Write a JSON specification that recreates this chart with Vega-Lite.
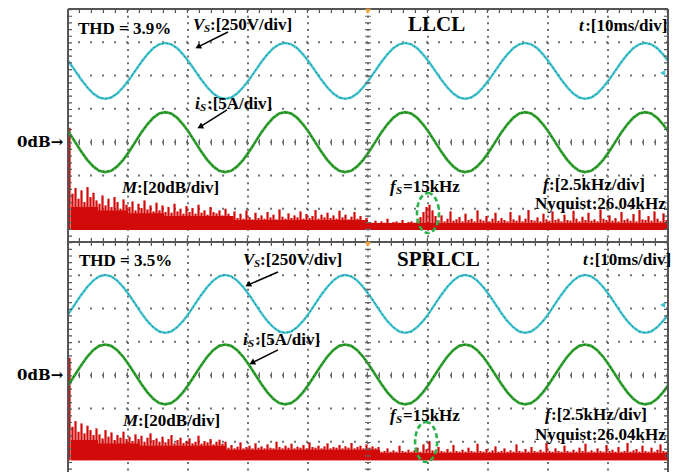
{
"$schema":"https://vega.github.io/schema/vega-lite/v6.json",
"width":600,"height":463,
"autosize":{"type":"none"},
"padding":{"left":68,"top":9,"right":14,"bottom":0},
"background":"white",
"config":{"view":{"stroke":null}},
"datasets":{
"w":[
{"t":-0.8,"a":12.63,"b":10.53,"c":4.63,"d":2.49},{"t":0.2,"a":12.40,"b":10.28,"c":4.87,"d":2.74},{"t":1.2,"a":12.14,"b":10.00,"c":5.14,"d":3.02},{"t":2.2,"a":11.88,"b":9.72,"c":5.41,"d":3.30},{"t":3.2,"a":11.65,"b":9.47,"c":5.65,"d":3.55},{"t":4.2,"a":11.46,"b":9.27,"c":5.84,"d":3.75},{"t":5.2,"a":11.34,"b":9.14,"c":5.97,"d":3.88},{"t":6.2,"a":11.30,"b":9.10,"c":6.01,"d":3.92},{"t":7.2,"a":11.34,"b":9.14,"c":5.97,"d":3.88},{"t":8.2,"a":11.46,"b":9.27,"c":5.84,"d":3.75},{"t":9.2,"a":11.65,"b":9.47,"c":5.65,"d":3.55},{"t":10.2,"a":11.88,"b":9.72,"c":5.41,"d":3.30},{"t":11.2,"a":12.14,"b":10.00,"c":5.14,"d":3.02},{"t":12.2,"a":12.40,"b":10.28,"c":4.87,"d":2.74},{"t":13.2,"a":12.63,"b":10.53,"c":4.63,"d":2.49},{"t":14.2,"a":12.82,"b":10.73,"c":4.44,"d":2.29},{"t":15.2,"a":12.94,"b":10.86,"c":4.31,"d":2.16},{"t":16.2,"a":12.98,"b":10.90,"c":4.27,"d":2.12},{"t":17.2,"a":12.94,"b":10.86,"c":4.31,"d":2.16},{"t":18.2,"a":12.82,"b":10.73,"c":4.44,"d":2.29},
{"t":19.2,"a":12.63,"b":10.53,"c":4.63,"d":2.49},{"t":20.2,"a":12.40,"b":10.28,"c":4.87,"d":2.74},{"t":21.2,"a":12.14,"b":10.00,"c":5.14,"d":3.02},{"t":22.2,"a":11.88,"b":9.72,"c":5.41,"d":3.30},{"t":23.2,"a":11.65,"b":9.47,"c":5.65,"d":3.55},{"t":24.2,"a":11.46,"b":9.27,"c":5.84,"d":3.75},{"t":25.2,"a":11.34,"b":9.14,"c":5.97,"d":3.88},{"t":26.2,"a":11.30,"b":9.10,"c":6.01,"d":3.92},{"t":27.2,"a":11.34,"b":9.14,"c":5.97,"d":3.88},{"t":28.2,"a":11.46,"b":9.27,"c":5.84,"d":3.75},{"t":29.2,"a":11.65,"b":9.47,"c":5.65,"d":3.55},{"t":30.2,"a":11.88,"b":9.72,"c":5.41,"d":3.30},{"t":31.2,"a":12.14,"b":10.00,"c":5.14,"d":3.02},{"t":32.2,"a":12.40,"b":10.28,"c":4.87,"d":2.74},{"t":33.2,"a":12.63,"b":10.53,"c":4.63,"d":2.49},{"t":34.2,"a":12.82,"b":10.73,"c":4.44,"d":2.29},{"t":35.2,"a":12.94,"b":10.86,"c":4.31,"d":2.16},{"t":36.2,"a":12.98,"b":10.90,"c":4.27,"d":2.12},{"t":37.2,"a":12.94,"b":10.86,"c":4.31,"d":2.16},{"t":38.2,"a":12.82,"b":10.73,"c":4.44,"d":2.29},
{"t":39.2,"a":12.63,"b":10.53,"c":4.63,"d":2.49},{"t":40.2,"a":12.40,"b":10.28,"c":4.87,"d":2.74},{"t":41.2,"a":12.14,"b":10.00,"c":5.14,"d":3.02},{"t":42.2,"a":11.88,"b":9.72,"c":5.41,"d":3.30},{"t":43.2,"a":11.65,"b":9.47,"c":5.65,"d":3.55},{"t":44.2,"a":11.46,"b":9.27,"c":5.84,"d":3.75},{"t":45.2,"a":11.34,"b":9.14,"c":5.97,"d":3.88},{"t":46.2,"a":11.30,"b":9.10,"c":6.01,"d":3.92},{"t":47.2,"a":11.34,"b":9.14,"c":5.97,"d":3.88},{"t":48.2,"a":11.46,"b":9.27,"c":5.84,"d":3.75},{"t":49.2,"a":11.65,"b":9.47,"c":5.65,"d":3.55},{"t":50.2,"a":11.88,"b":9.72,"c":5.41,"d":3.30},{"t":51.2,"a":12.14,"b":10.00,"c":5.14,"d":3.02},{"t":52.2,"a":12.40,"b":10.28,"c":4.87,"d":2.74},{"t":53.2,"a":12.63,"b":10.53,"c":4.63,"d":2.49},{"t":54.2,"a":12.82,"b":10.73,"c":4.44,"d":2.29},{"t":55.2,"a":12.94,"b":10.86,"c":4.31,"d":2.16},{"t":56.2,"a":12.98,"b":10.90,"c":4.27,"d":2.12},{"t":57.2,"a":12.94,"b":10.86,"c":4.31,"d":2.16},{"t":58.2,"a":12.82,"b":10.73,"c":4.44,"d":2.29},
{"t":59.2,"a":12.63,"b":10.53,"c":4.63,"d":2.49},{"t":60.2,"a":12.40,"b":10.28,"c":4.87,"d":2.74},{"t":61.2,"a":12.14,"b":10.00,"c":5.14,"d":3.02},{"t":62.2,"a":11.88,"b":9.72,"c":5.41,"d":3.30},{"t":63.2,"a":11.65,"b":9.47,"c":5.65,"d":3.55},{"t":64.2,"a":11.46,"b":9.27,"c":5.84,"d":3.75},{"t":65.2,"a":11.34,"b":9.14,"c":5.97,"d":3.88},{"t":66.2,"a":11.30,"b":9.10,"c":6.01,"d":3.92},{"t":67.2,"a":11.34,"b":9.14,"c":5.97,"d":3.88},{"t":68.2,"a":11.46,"b":9.27,"c":5.84,"d":3.75},{"t":69.2,"a":11.65,"b":9.47,"c":5.65,"d":3.55},{"t":70.2,"a":11.88,"b":9.72,"c":5.41,"d":3.30},{"t":71.2,"a":12.14,"b":10.00,"c":5.14,"d":3.02},{"t":72.2,"a":12.40,"b":10.28,"c":4.87,"d":2.74},{"t":73.2,"a":12.63,"b":10.53,"c":4.63,"d":2.49},{"t":74.2,"a":12.82,"b":10.73,"c":4.44,"d":2.29},{"t":75.2,"a":12.94,"b":10.86,"c":4.31,"d":2.16},{"t":76.2,"a":12.98,"b":10.90,"c":4.27,"d":2.12},{"t":77.2,"a":12.94,"b":10.86,"c":4.31,"d":2.16},{"t":78.2,"a":12.82,"b":10.73,"c":4.44,"d":2.29},
{"t":79.2,"a":12.63,"b":10.53,"c":4.63,"d":2.49},{"t":80.2,"a":12.40,"b":10.28,"c":4.87,"d":2.74},{"t":81.2,"a":12.14,"b":10.00,"c":5.14,"d":3.02},{"t":82.2,"a":11.88,"b":9.72,"c":5.41,"d":3.30},{"t":83.2,"a":11.65,"b":9.47,"c":5.65,"d":3.55},{"t":84.2,"a":11.46,"b":9.27,"c":5.84,"d":3.75},{"t":85.2,"a":11.34,"b":9.14,"c":5.97,"d":3.88},{"t":86.2,"a":11.30,"b":9.10,"c":6.01,"d":3.92},{"t":87.2,"a":11.34,"b":9.14,"c":5.97,"d":3.88},{"t":88.2,"a":11.46,"b":9.27,"c":5.84,"d":3.75},{"t":89.2,"a":11.65,"b":9.47,"c":5.65,"d":3.55},{"t":90.2,"a":11.88,"b":9.72,"c":5.41,"d":3.30},{"t":91.2,"a":12.14,"b":10.00,"c":5.14,"d":3.02},{"t":92.2,"a":12.40,"b":10.28,"c":4.87,"d":2.74},{"t":93.2,"a":12.63,"b":10.53,"c":4.63,"d":2.49},{"t":94.2,"a":12.82,"b":10.73,"c":4.44,"d":2.29},{"t":95.2,"a":12.94,"b":10.86,"c":4.31,"d":2.16},{"t":96.2,"a":12.98,"b":10.90,"c":4.27,"d":2.12},{"t":97.2,"a":12.94,"b":10.86,"c":4.31,"d":2.16},{"t":98.2,"a":12.82,"b":10.73,"c":4.44,"d":2.29},
{"t":99.2,"a":12.63,"b":10.53,"c":4.63,"d":2.49},{"t":100.2,"a":12.40,"b":10.28,"c":4.87,"d":2.74}
],
"s":[
{"f":0.0625,"a":10.43,"b":3.52},{"f":0.1875,"a":8.45,"b":1.45},{"f":0.3125,"a":8.62,"b":1.62},{"f":0.4375,"a":8.30,"b":1.30},{"f":0.5625,"a":8.55,"b":1.55},{"f":0.6875,"a":8.20,"b":1.25},{"f":0.8125,"a":8.65,"b":1.48},{"f":0.9375,"a":8.35,"b":1.35},
{"f":1.0625,"a":8.48,"b":1.20},{"f":1.1875,"a":8.25,"b":1.40},{"f":1.3125,"a":8.15,"b":1.22},{"f":1.4375,"a":8.40,"b":1.10},{"f":1.5625,"a":8.10,"b":1.35},{"f":1.6875,"a":8.30,"b":1.15},{"f":1.8125,"a":8.05,"b":1.28},{"f":1.9375,"a":8.35,"b":1.05},
{"f":2.0625,"a":8.20,"b":1.20},{"f":2.1875,"a":8.00,"b":1.12},{"f":2.3125,"a":8.28,"b":1.30},{"f":2.4375,"a":8.12,"b":1.08},{"f":2.5625,"a":8.05,"b":1.15},{"f":2.6875,"a":8.22,"b":1.02},{"f":2.8125,"a":7.95,"b":1.22},{"f":2.9375,"a":8.15,"b":1.08},
{"f":3.0625,"a":8.02,"b":1.18},{"f":3.1875,"a":8.25,"b":1.00},{"f":3.3125,"a":7.98,"b":1.12},{"f":3.4375,"a":8.10,"b":1.25},{"f":3.5625,"a":7.92,"b":1.05},{"f":3.6875,"a":8.18,"b":1.10},{"f":3.8125,"a":7.95,"b":1.00},{"f":3.9375,"a":8.10,"b":1.15},
{"f":4.0625,"a":7.90,"b":0.98},{"f":4.1875,"a":8.05,"b":1.08},{"f":4.3125,"a":7.88,"b":1.20},{"f":4.4375,"a":8.15,"b":0.95},{"f":4.5625,"a":7.92,"b":1.05},{"f":4.6875,"a":8.00,"b":1.12},{"f":4.8125,"a":7.85,"b":0.96},{"f":4.9375,"a":8.08,"b":1.02},
{"f":5.0625,"a":7.90,"b":1.10},{"f":5.1875,"a":8.02,"b":0.95},{"f":5.3125,"a":7.85,"b":1.00},{"f":5.4375,"a":8.12,"b":1.18},{"f":5.5625,"a":7.88,"b":0.94},{"f":5.6875,"a":7.95,"b":1.02},{"f":5.8125,"a":7.82,"b":0.98},{"f":5.9375,"a":8.05,"b":1.08},
{"f":6.0625,"a":7.90,"b":0.92},{"f":6.1875,"a":7.86,"b":1.00},{"f":6.3125,"a":7.95,"b":1.06},{"f":6.4375,"a":7.80,"b":0.94},{"f":6.5625,"a":8.00,"b":1.00},{"f":6.6875,"a":7.85,"b":0.82},{"f":6.8125,"a":7.78,"b":0.90},{"f":6.9375,"a":7.92,"b":0.80},
{"f":7.0625,"a":7.72,"b":0.85},{"f":7.1875,"a":7.85,"b":0.98},{"f":7.3125,"a":7.70,"b":0.80},{"f":7.4375,"a":7.95,"b":0.84},{"f":7.5625,"a":7.75,"b":0.88},{"f":7.6875,"a":7.68,"b":0.80},{"f":7.8125,"a":7.88,"b":0.95},{"f":7.9375,"a":7.72,"b":0.82},
{"f":8.0625,"a":7.80,"b":0.86},{"f":8.1875,"a":7.70,"b":0.80},{"f":8.3125,"a":7.90,"b":0.92},{"f":8.4375,"a":7.74,"b":0.82},{"f":8.5625,"a":7.82,"b":0.80},{"f":8.6875,"a":7.68,"b":1.00},{"f":8.8125,"a":7.98,"b":0.84},{"f":8.9375,"a":7.76,"b":0.80},
{"f":9.0625,"a":7.70,"b":0.88},{"f":9.1875,"a":7.86,"b":0.82},{"f":9.3125,"a":7.72,"b":0.94},{"f":9.4375,"a":7.80,"b":0.80},{"f":9.5625,"a":7.74,"b":0.85},{"f":9.6875,"a":7.92,"b":0.82},{"f":9.8125,"a":7.70,"b":0.90},{"f":9.9375,"a":7.84,"b":0.80},
{"f":10.0625,"a":7.72,"b":0.98},{"f":10.1875,"a":7.78,"b":0.84},{"f":10.3125,"a":7.96,"b":0.82},{"f":10.4375,"a":7.70,"b":0.88},{"f":10.5625,"a":7.82,"b":0.80},{"f":10.6875,"a":7.74,"b":0.86},{"f":10.8125,"a":7.88,"b":0.95},{"f":10.9375,"a":7.72,"b":0.80},
{"f":11.0625,"a":7.80,"b":0.84},{"f":11.1875,"a":7.70,"b":0.82},{"f":11.3125,"a":7.94,"b":0.90},{"f":11.4375,"a":7.74,"b":0.80},{"f":11.5625,"a":7.82,"b":0.86},{"f":11.6875,"a":7.68,"b":0.82},{"f":11.8125,"a":7.76,"b":0.96},{"f":11.9375,"a":7.90,"b":0.80},
{"f":12.0625,"a":7.70,"b":0.84},{"f":12.1875,"a":7.78,"b":0.88},{"f":12.3125,"a":7.66,"b":0.80},{"f":12.4375,"a":7.72,"b":0.92},{"f":12.5625,"a":7.60,"b":0.82},{"f":12.6875,"a":7.58,"b":0.86},{"f":12.8125,"a":7.64,"b":0.80},{"f":12.9375,"a":7.56,"b":0.84},
{"f":13.0625,"a":7.62,"b":0.70},{"f":13.1875,"a":7.58,"b":0.72},{"f":13.3125,"a":7.70,"b":0.80},{"f":13.4375,"a":7.56,"b":0.70},{"f":13.5625,"a":7.60,"b":0.74},{"f":13.6875,"a":7.62,"b":0.70},{"f":13.8125,"a":7.58,"b":0.88},{"f":13.9375,"a":7.66,"b":0.72},
{"f":14.0625,"a":7.56,"b":0.70},{"f":14.1875,"a":7.60,"b":0.76},{"f":14.3125,"a":7.62,"b":0.70},{"f":14.4375,"a":7.58,"b":0.74},{"f":14.5625,"a":7.64,"b":0.82},{"f":14.6875,"a":7.75,"b":0.70},{"f":14.8125,"a":7.90,"b":0.92},{"f":14.9375,"a":8.05,"b":0.78},
{"f":15.0625,"a":8.12,"b":1.02},{"f":15.1875,"a":7.95,"b":0.74},{"f":15.3125,"a":7.78,"b":0.70},{"f":15.4375,"a":7.65,"b":0.84},{"f":15.5625,"a":7.80,"b":0.72},{"f":15.6875,"a":7.62,"b":0.70},{"f":15.8125,"a":7.70,"b":0.78},{"f":15.9375,"a":7.92,"b":0.70},
{"f":16.0625,"a":7.64,"b":0.90},{"f":16.1875,"a":7.68,"b":0.72},{"f":16.3125,"a":7.75,"b":0.70},{"f":16.4375,"a":7.62,"b":0.76},{"f":16.5625,"a":7.85,"b":0.70},{"f":16.6875,"a":7.66,"b":0.82},{"f":16.8125,"a":7.70,"b":0.72},{"f":16.9375,"a":7.62,"b":0.70},
{"f":17.0625,"a":7.95,"b":0.94},{"f":17.1875,"a":7.68,"b":0.72},{"f":17.3125,"a":7.64,"b":0.70},{"f":17.4375,"a":7.78,"b":0.78},{"f":17.5625,"a":7.62,"b":0.70},{"f":17.6875,"a":7.70,"b":0.74},{"f":17.8125,"a":7.88,"b":0.86},{"f":17.9375,"a":7.64,"b":0.70},
{"f":18.0625,"a":7.72,"b":0.72},{"f":18.1875,"a":7.66,"b":0.80},{"f":18.3125,"a":7.62,"b":0.70},{"f":18.4375,"a":7.90,"b":0.74},{"f":18.5625,"a":7.68,"b":0.70},{"f":18.6875,"a":7.64,"b":0.92},{"f":18.8125,"a":7.80,"b":0.72},{"f":18.9375,"a":7.62,"b":0.70},
{"f":19.0625,"a":7.70,"b":0.78},{"f":19.1875,"a":7.96,"b":0.70},{"f":19.3125,"a":7.66,"b":0.84},{"f":19.4375,"a":7.64,"b":0.72},{"f":19.5625,"a":7.74,"b":0.70},{"f":19.6875,"a":7.62,"b":0.76},{"f":19.8125,"a":7.85,"b":0.70},{"f":19.9375,"a":7.68,"b":0.96},
{"f":20.0625,"a":7.64,"b":0.72},{"f":20.1875,"a":7.92,"b":0.70},{"f":20.3125,"a":7.66,"b":0.80},{"f":20.4375,"a":7.70,"b":0.72},{"f":20.5625,"a":7.62,"b":0.70},{"f":20.6875,"a":7.82,"b":0.88},{"f":20.8125,"a":7.66,"b":0.72},{"f":20.9375,"a":7.64,"b":0.70},
{"f":21.0625,"a":7.94,"b":0.76},{"f":21.1875,"a":7.70,"b":0.70},{"f":21.3125,"a":7.62,"b":0.82},{"f":21.4375,"a":7.76,"b":0.72},{"f":21.5625,"a":7.66,"b":0.94},{"f":21.6875,"a":7.88,"b":0.70},{"f":21.8125,"a":7.64,"b":0.74},{"f":21.9375,"a":7.68,"b":0.70},
{"f":22.0625,"a":7.62,"b":0.80},{"f":22.1875,"a":7.98,"b":0.72},{"f":22.3125,"a":7.70,"b":0.70},{"f":22.4375,"a":7.66,"b":0.90},{"f":22.5625,"a":7.80,"b":0.72},{"f":22.6875,"a":7.64,"b":0.76},{"f":22.8125,"a":7.72,"b":0.70},{"f":22.9375,"a":7.62,"b":0.84},
{"f":23.0625,"a":7.90,"b":0.70},{"f":23.1875,"a":7.66,"b":0.72},{"f":23.3125,"a":7.70,"b":0.96},{"f":23.4375,"a":7.64,"b":0.70},{"f":23.5625,"a":7.84,"b":0.74},{"f":23.6875,"a":7.62,"b":0.78},{"f":23.8125,"a":7.96,"b":0.70},{"f":23.9375,"a":7.68,"b":0.88},
{"f":24.0625,"a":7.66,"b":0.72},{"f":24.1875,"a":7.78,"b":0.70},{"f":24.3125,"a":7.64,"b":0.82},{"f":24.4375,"a":7.92,"b":0.70},{"f":24.5625,"a":7.70,"b":0.76},{"f":24.6875,"a":7.62,"b":0.92},{"f":24.8125,"a":7.86,"b":0.72},{"f":24.9375,"a":7.66,"b":0.70}
],
"base":[
{"f":0.125,"m":8.05,"n":1.05},{"f":1.25,"m":7.95,"n":0.95},{"f":2.5,"m":7.86,"n":0.95},{"f":3.0,"m":7.86,"n":0.88},{"f":4.0,"m":7.78,"n":0.88},{"f":6.6,"m":7.78,"n":0.76},{"f":6.9,"m":7.66,"n":0.76},{"f":12.5,"m":7.57,"n":0.76},{"f":13.0,"m":7.57,"n":0.66},{"f":25,"m":7.57,"n":0.66}
],
"gx":[{"g":10},{"g":20},{"g":30},{"g":40},{"g":50},{"g":60},{"g":70},{"g":80},{"g":90}],
"gy":[{"g":1},{"g":2},{"g":3},{"g":4},{"g":5},{"g":6},{"g":8},{"g":9},{"g":10},{"g":11},{"g":12},{"g":13}],
"lab":[
{"k":"z","t":-0.8,"y":10,"s":"0dB→"},
{"k":"z","t":-0.8,"y":3,"s":"0dB→"},
{"k":"b","t":1.67,"y":13.41,"s":"THD = 3.9%"},
{"k":"b","t":23.67,"y":13.52,"s":":[250V/div]"},
{"k":"b","t":86.2,"y":13.49,"s":":[10ms/div]"},
{"k":"b","t":23.17,"y":11.15,"s":":[5A/div]"},
{"k":"b","t":11.5,"y":8.62,"s":":[20dB/div]"},
{"k":"b","t":55.83,"y":8.65,"s":"=15kHz"},
{"k":"b","t":80.17,"y":8.71,"s":":[2.5kHz/div]"},
{"k":"b","t":77.83,"y":8.14,"s":"Nyquist:26.04kHz"},
{"k":"b","t":1.83,"y":6.43,"s":"THD = 3.5%"},
{"k":"b","t":32.0,"y":6.46,"s":":[250V/div]"},
{"k":"b","t":86.83,"y":6.46,"s":":[10ms/div]"},
{"k":"b","t":31.17,"y":4.06,"s":":[5A/div]"},
{"k":"b","t":11.67,"y":1.62,"s":":[20dB/div]"},
{"k":"b","t":55.83,"y":1.77,"s":"=15kHz"},
{"k":"b","t":80.5,"y":1.80,"s":":[2.5kHz/div]"},
{"k":"b","t":77.83,"y":1.20,"s":"Nyquist:26.04kHz"},
{"k":"L","t":56.67,"y":13.52,"s":"LLCL"},
{"k":"L","t":54.83,"y":6.46,"s":"SPRLCL"},
{"k":"i","t":20.83,"y":13.52,"s":"V"},
{"k":"i","t":85.17,"y":13.49,"s":"t"},
{"k":"i","t":21.17,"y":11.15,"s":"i"},
{"k":"i","t":9.0,"y":8.62,"s":"M"},
{"k":"i","t":53.67,"y":8.65,"s":"f"},
{"k":"i","t":79.17,"y":8.71,"s":"f"},
{"k":"i","t":29.17,"y":6.46,"s":"V"},
{"k":"i","t":85.83,"y":6.46,"s":"t"},
{"k":"i","t":29.17,"y":4.06,"s":"i"},
{"k":"i","t":9.17,"y":1.62,"s":"M"},
{"k":"i","t":53.67,"y":1.77,"s":"f"},
{"k":"i","t":79.5,"y":1.80,"s":"f"},
{"k":"s","t":22.67,"y":13.40,"s":"S"},
{"k":"s","t":22.0,"y":11.03,"s":"S"},
{"k":"s","t":54.67,"y":8.53,"s":"S"},
{"k":"s","t":31.0,"y":6.34,"s":"S"},
{"k":"s","t":30.0,"y":3.94,"s":"S"},
{"k":"s","t":54.67,"y":1.65,"s":"S"}
],
"arr":[
{"t":26.67,"y":13.31,"t2":21.67,"y2":12.86},
{"t":26.5,"y":10.97,"t2":22.0,"y2":10.46},
{"t":35.0,"y":6.10,"t2":30.0,"y2":5.71},
{"t":35.0,"y":3.76,"t2":30.67,"y2":3.37}
]
},
"layer":[
{"data":{"name":"gx"},"mark":{"type":"rule","color":"#707070","strokeWidth":2,"strokeDash":[2,4.66]},
 "encoding":{"x":{"field":"g","type":"quantitative","scale":{"domain":[0,100],"nice":false,"zero":false},"axis":null}}},
{"data":{"name":"gy"},"mark":{"type":"rule","color":"#707070","strokeWidth":2,"strokeDash":[2,10]},
 "encoding":{"y":{"field":"g","type":"quantitative","scale":{"domain":[0.09,14],"nice":false,"zero":false},"axis":null}}},
{"data":{"name":"base"},"mark":{"type":"area","color":"#d20a0a","interpolate":"step-after","opacity":1,"clip":true},
 "encoding":{"x":{"field":"f","type":"quantitative","scale":{"domain":[0,25],"nice":false,"zero":false},"axis":null},
 "y":{"field":"m","type":"quantitative","scale":{"domain":[0.09,14],"nice":false,"zero":false},"axis":null},
 "y2":{"datum":7.36}}},
{"data":{"name":"base"},"mark":{"type":"area","color":"#d20a0a","interpolate":"step-after","opacity":1,"clip":true},
 "encoding":{"x":{"field":"f","type":"quantitative","scale":{"domain":[0,25],"nice":false,"zero":false},"axis":null},
 "y":{"field":"n","type":"quantitative","scale":{"domain":[0.09,14],"nice":false,"zero":false},"axis":null},
 "y2":{"datum":0.44}}},
{"data":{"name":"s"},"mark":{"type":"rule","color":"#d20a0a","strokeWidth":2.2,"clip":true},
 "encoding":{"x":{"field":"f","type":"quantitative","scale":{"domain":[0,25],"nice":false,"zero":false},"axis":null},
 "y":{"field":"a","type":"quantitative","scale":{"domain":[0.09,14],"nice":false,"zero":false},"axis":null},
 "y2":{"datum":7.36}}},
{"data":{"name":"s"},"mark":{"type":"rule","color":"#d20a0a","strokeWidth":2.2,"clip":true},
 "encoding":{"x":{"field":"f","type":"quantitative","scale":{"domain":[0,25],"nice":false,"zero":false},"axis":null},
 "y":{"field":"b","type":"quantitative","scale":{"domain":[0.09,14],"nice":false,"zero":false},"axis":null},
 "y2":{"datum":0.44}}},
{"data":{"values":[{"f":15.0,"y":7.87},{"f":14.92,"y":0.99}]},
 "mark":{"type":"point","shape":"M0,-1A0.55,1,0,1,1,0,1A0.55,1,0,1,1,0,-1Z","size":1600,"filled":false,"stroke":"#2bb24c","strokeWidth":2.6,"strokeDash":[5,3],"opacity":1},
 "encoding":{"x":{"field":"f","type":"quantitative","scale":{"domain":[0,25],"nice":false,"zero":false},"axis":null},
 "y":{"field":"y","type":"quantitative","scale":{"domain":[0.09,14],"nice":false,"zero":false},"axis":null}}},
{"data":{"name":"w"},"mark":{"type":"line","color":"#3ec5d0","strokeWidth":2.4,"clip":true},
 "encoding":{"x":{"field":"t","type":"quantitative","scale":{"domain":[0,100],"nice":false,"zero":false},"axis":null},
 "y":{"field":"a","type":"quantitative","scale":{"domain":[0.09,14],"nice":false,"zero":false},"axis":null}}},
{"data":{"name":"w"},"mark":{"type":"line","color":"#2fa22f","strokeWidth":2.7,"clip":true},
 "encoding":{"x":{"field":"t","type":"quantitative","scale":{"domain":[0,100],"nice":false,"zero":false},"axis":null},
 "y":{"field":"b","type":"quantitative","scale":{"domain":[0.09,14],"nice":false,"zero":false},"axis":null}}},
{"data":{"name":"w"},"mark":{"type":"line","color":"#3ec5d0","strokeWidth":2.4,"clip":true},
 "encoding":{"x":{"field":"t","type":"quantitative","scale":{"domain":[0,100],"nice":false,"zero":false},"axis":null},
 "y":{"field":"c","type":"quantitative","scale":{"domain":[0.09,14],"nice":false,"zero":false},"axis":null}}},
{"data":{"name":"w"},"mark":{"type":"line","color":"#2fa22f","strokeWidth":2.7,"clip":true},
 "encoding":{"x":{"field":"t","type":"quantitative","scale":{"domain":[0,100],"nice":false,"zero":false},"axis":null},
 "y":{"field":"d","type":"quantitative","scale":{"domain":[0.09,14],"nice":false,"zero":false},"axis":null}}},
{"data":{"name":"w"},"mark":{"type":"line","color":"#1e2a2a","strokeWidth":1,"opacity":0.5,"strokeDash":[1.5,3],"clip":true},
 "encoding":{"x":{"field":"t","type":"quantitative","scale":{"domain":[0,100],"nice":false,"zero":false},"axis":null},
 "y":{"field":"a","type":"quantitative","scale":{"domain":[0.09,14],"nice":false,"zero":false},"axis":null}}},
{"data":{"name":"w"},"mark":{"type":"line","color":"#102010","strokeWidth":1,"opacity":0.5,"strokeDash":[1.5,3],"clip":true},
 "encoding":{"x":{"field":"t","type":"quantitative","scale":{"domain":[0,100],"nice":false,"zero":false},"axis":null},
 "y":{"field":"b","type":"quantitative","scale":{"domain":[0.09,14],"nice":false,"zero":false},"axis":null}}},
{"data":{"name":"w"},"mark":{"type":"line","color":"#1e2a2a","strokeWidth":1,"opacity":0.5,"strokeDash":[1.5,3],"clip":true},
 "encoding":{"x":{"field":"t","type":"quantitative","scale":{"domain":[0,100],"nice":false,"zero":false},"axis":null},
 "y":{"field":"c","type":"quantitative","scale":{"domain":[0.09,14],"nice":false,"zero":false},"axis":null}}},
{"data":{"name":"w"},"mark":{"type":"line","color":"#102010","strokeWidth":1,"opacity":0.5,"strokeDash":[1.5,3],"clip":true},
 "encoding":{"x":{"field":"t","type":"quantitative","scale":{"domain":[0,100],"nice":false,"zero":false},"axis":null},
 "y":{"field":"d","type":"quantitative","scale":{"domain":[0.09,14],"nice":false,"zero":false},"axis":null}}},
{"data":{"values":[{}]},"mark":{"type":"rule","color":"#555555","strokeWidth":2},
 "encoding":{"x":{"datum":0,"type":"quantitative","scale":{"domain":[0,100],"nice":false,"zero":false},"axis":null}}},
{"data":{"values":[{}]},"mark":{"type":"rule","color":"#555555","strokeWidth":2},
 "encoding":{"x":{"datum":100,"type":"quantitative","scale":{"domain":[0,100],"nice":false,"zero":false},"axis":null}}},
{"data":{"values":[{}]},"mark":{"type":"rule","color":"#555555","strokeWidth":2},
 "encoding":{"y":{"datum":14,"type":"quantitative","scale":{"domain":[0.09,14],"nice":false,"zero":false},"axis":null}}},
{"data":{"values":[{}]},"mark":{"type":"rule","color":"#555555","strokeWidth":2},
 "encoding":{"y":{"datum":7,"type":"quantitative","scale":{"domain":[0.09,14],"nice":false,"zero":false},"axis":null}}},
{"data":{"values":[{}]},"mark":{"type":"rule","color":"#555555","strokeWidth":8,"strokeDash":[1.2,5.46],"clip":true},
 "encoding":{"x":{"datum":0,"type":"quantitative","scale":{"domain":[0,100],"nice":false,"zero":false},"axis":null}}},
{"data":{"values":[{}]},"mark":{"type":"rule","color":"#555555","strokeWidth":8,"strokeDash":[1.2,5.46],"clip":true},
 "encoding":{"x":{"datum":100,"type":"quantitative","scale":{"domain":[0,100],"nice":false,"zero":false},"axis":null}}},
{"data":{"values":[{}]},"mark":{"type":"rule","color":"#555555","strokeWidth":8,"strokeDash":[1.2,10.8],"clip":true},
 "encoding":{"y":{"datum":14,"type":"quantitative","scale":{"domain":[0.09,14],"nice":false,"zero":false},"axis":null}}},
{"data":{"values":[{}]},"mark":{"type":"rule","color":"#555555","strokeWidth":8,"strokeDash":[1.2,10.8]},
 "encoding":{"y":{"datum":7,"type":"quantitative","scale":{"domain":[0.09,14],"nice":false,"zero":false},"axis":null}}},
{"data":{"values":[{}]},"mark":{"type":"rule","color":"#666666","strokeWidth":6,"strokeDash":[1.2,5.46]},
 "encoding":{"x":{"datum":50,"type":"quantitative","scale":{"domain":[0,100],"nice":false,"zero":false},"axis":null}}},
{"data":{"values":[{}]},"mark":{"type":"rule","color":"#666666","strokeWidth":6,"strokeDash":[1.2,10.8]},
 "encoding":{"y":{"datum":10,"type":"quantitative","scale":{"domain":[0.09,14],"nice":false,"zero":false},"axis":null}}},
{"data":{"values":[{}]},"mark":{"type":"rule","color":"#666666","strokeWidth":6,"strokeDash":[1.2,10.8]},
 "encoding":{"y":{"datum":3,"type":"quantitative","scale":{"domain":[0.09,14],"nice":false,"zero":false},"axis":null}}},
{"data":{"name":"lab"},"transform":[{"filter":"datum.k === 'z'"}],
 "mark":{"type":"text","font":"DejaVu Serif","fontSize":15,"fontWeight":"bold","align":"right","baseline":"middle","color":"black"},
 "encoding":{"x":{"field":"t","type":"quantitative","scale":{"domain":[0,100],"nice":false,"zero":false},"axis":null},
 "y":{"field":"y","type":"quantitative","scale":{"domain":[0.09,14],"nice":false,"zero":false},"axis":null},
 "text":{"field":"s"}}},
{"data":{"name":"lab"},"transform":[{"filter":"datum.k === 'b'"}],
 "mark":{"type":"text","font":"Liberation Serif","fontSize":17,"fontWeight":"bold","align":"left","baseline":"middle","color":"black"},
 "encoding":{"x":{"field":"t","type":"quantitative","scale":{"domain":[0,100],"nice":false,"zero":false},"axis":null},
 "y":{"field":"y","type":"quantitative","scale":{"domain":[0.09,14],"nice":false,"zero":false},"axis":null},
 "text":{"field":"s"}}},
{"data":{"name":"lab"},"transform":[{"filter":"datum.k === 'L'"}],
 "mark":{"type":"text","font":"Liberation Serif","fontSize":21,"fontWeight":"bold","align":"left","baseline":"middle","color":"black"},
 "encoding":{"x":{"field":"t","type":"quantitative","scale":{"domain":[0,100],"nice":false,"zero":false},"axis":null},
 "y":{"field":"y","type":"quantitative","scale":{"domain":[0.09,14],"nice":false,"zero":false},"axis":null},
 "text":{"field":"s"}}},
{"data":{"name":"lab"},"transform":[{"filter":"datum.k === 'i'"}],
 "mark":{"type":"text","font":"Liberation Serif","fontSize":17,"fontWeight":"bold","fontStyle":"italic","align":"left","baseline":"middle","color":"black"},
 "encoding":{"x":{"field":"t","type":"quantitative","scale":{"domain":[0,100],"nice":false,"zero":false},"axis":null},
 "y":{"field":"y","type":"quantitative","scale":{"domain":[0.09,14],"nice":false,"zero":false},"axis":null},
 "text":{"field":"s"}}},
{"data":{"name":"lab"},"transform":[{"filter":"datum.k === 's'"}],
 "mark":{"type":"text","font":"Liberation Serif","fontSize":11,"fontWeight":"bold","fontStyle":"italic","align":"left","baseline":"middle","color":"black"},
 "encoding":{"x":{"field":"t","type":"quantitative","scale":{"domain":[0,100],"nice":false,"zero":false},"axis":null},
 "y":{"field":"y","type":"quantitative","scale":{"domain":[0.09,14],"nice":false,"zero":false},"axis":null},
 "text":{"field":"s"}}},
{"data":{"name":"arr"},"mark":{"type":"rule","color":"black","strokeWidth":1.5},
 "encoding":{"x":{"field":"t","type":"quantitative","scale":{"domain":[0,100],"nice":false,"zero":false},"axis":null},
 "y":{"field":"y","type":"quantitative","scale":{"domain":[0.09,14],"nice":false,"zero":false},"axis":null},
 "x2":{"field":"t2"},"y2":{"field":"y2"}}},
{"data":{"name":"arr"},"mark":{"type":"point","shape":"triangle-up","size":45,"filled":true,"color":"black","opacity":1,"angle":243},
 "encoding":{"x":{"field":"t2","type":"quantitative","scale":{"domain":[0,100],"nice":false,"zero":false},"axis":null},
 "y":{"field":"y2","type":"quantitative","scale":{"domain":[0.09,14],"nice":false,"zero":false},"axis":null}}},
{"data":{"values":[{"t":50,"y":13.93},{"t":50,"y":6.93}]},"mark":{"type":"point","shape":"triangle-down","size":35,"filled":true,"color":"#f2a23a","opacity":1},
 "encoding":{"x":{"field":"t","type":"quantitative","scale":{"domain":[0,100],"nice":false,"zero":false},"axis":null},
 "y":{"field":"y","type":"quantitative","scale":{"domain":[0.09,14],"nice":false,"zero":false},"axis":null}}},
{"data":{"values":[{"t":99.1,"y":12.08},{"t":99.1,"y":5.11}]},"mark":{"type":"point","shape":"triangle-left","size":35,"filled":true,"color":"#3ec5d0","opacity":1},
 "encoding":{"x":{"field":"t","type":"quantitative","scale":{"domain":[0,100],"nice":false,"zero":false},"axis":null},
 "y":{"field":"y","type":"quantitative","scale":{"domain":[0.09,14],"nice":false,"zero":false},"axis":null}}}
],
"resolve":{"scale":{"x":"independent"}}
}
